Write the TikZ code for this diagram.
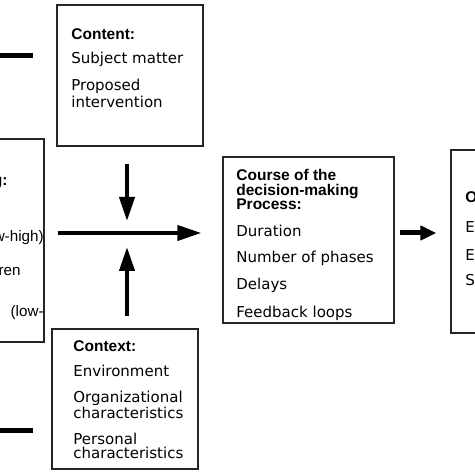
\documentclass[tikz,border=0pt]{standalone}
\usepackage{fontspec}
\setmainfont{DejaVu Sans}
\newfontfamily\headfont{Liberation Sans}
\usetikzlibrary{arrows.meta,fit}

\newcommand{\head}[1]{{\headfont\bfseries\fontsize{7.75}{7.25}\selectfont #1}}

\tikzset{
  box/.style={draw=black!85, line width=0.6pt, inner sep=0pt},
  txt/.style={anchor=north west, align=left, inner sep=0pt, font=\fontsize{7.5}{7.25}\selectfont},
  frag/.style={anchor=base east, inner sep=0pt, font=\headfont\fontsize{7.6}{7.25}\selectfont},
  bigarrow/.style={line width=2pt, -{Triangle[length=12pt,width=7.5pt]}},
  fatarrow/.style={line width=2.5pt, -{Triangle[length=8pt,width=7pt]}},
}

\begin{document}
\begin{tikzpicture}[x=0.5pt,y=-0.5pt]

   \useasboundingbox (0,0) rectangle (474,474);

   % boxes
   \node[box, fit={(-10,139) (44,342)}] (factors) {};
   \node[box, fit={(57,5) (203,146)}] (content) {};
   \node[box, fit={(52,329) (198,469)}] (context) {};
   \node[box, fit={(223,157) (394,323)}] (course) {};
   \node[box, fit={(451,150) (490,333)}] (outcome) {};

   % texts
   \node[txt] (contenttxt) at (71,28) {\head{Content:}\\[4.75pt]
      Subject matter\\[5.5pt] Proposed\\intervention};
   \node[txt] (contexttxt) at (73,340) {\head{Context:}\\[5.5pt]
      Environment\\[5.5pt] Organizational\\characteristics\\[5.5pt]
      Personal\\characteristics};
   \node[txt] (coursetxt) at (236,169) {\head{Course of the}\\\head{decision-making}\\\head{Process:}\\[6.25pt]
      Duration\\[5.5pt] Number of phases\\[5.5pt] Delays\\[5.5pt] Feedback loops};
   \node[txt] (outcometxt) at (465,191) {\head{O}\\[8pt] E\\[6.5pt] E\\[5.5pt] S};

   \node[frag] (f1) at (8,186) {\head{g:}};
   \node[frag] (f2) at (44,242) {w-high)};
   \node[frag] (f3) at (21,276) {ren};
   \node[frag] (f4) at (44,316) {(low-};

   % lines from the left
   \draw[line width=2.5pt] (0,55.5) -- (33,55.5);
   \draw[line width=2.5pt] (0,430.5) -- (33,430.5);

   % arrows
   \coordinate (hub) at (127,233);
   \draw[bigarrow, shorten <=8.5pt, shorten >=6pt] (content.south -| hub) -- (hub);
   \draw[bigarrow, shorten <=6pt, shorten >=7pt] (context.north -| hub) -- (hub);
   \draw[bigarrow, shorten <=6.5pt, shorten >=10.5pt] (factors.east |- hub) -- (course.west |- hub);
   \draw[fatarrow, shorten <=2.5pt, shorten >=7pt] (course.east |- hub) -- (outcome.west |- hub);

\end{tikzpicture}
\end{document}
